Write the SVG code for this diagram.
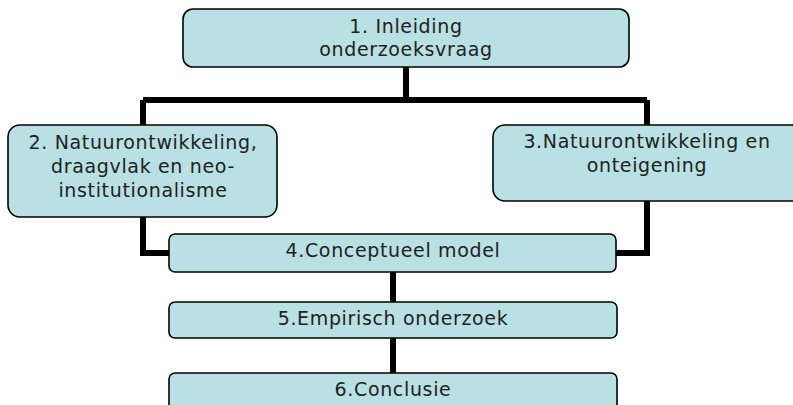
<svg xmlns="http://www.w3.org/2000/svg" width="793" height="405" viewBox="0 0 793 405">
<style>
.box{fill:#b9e0e2;stroke:#000;stroke-width:1.6}
.t{font-family:"DejaVu Sans",Verdana,sans-serif;font-size:19px;letter-spacing:0.65px;fill:#222;text-anchor:middle}
.c{fill:none;stroke:#000;stroke-width:6}
</style>
<rect width="793" height="405" fill="#fff"/>
<g id="connectors">
<path class="c" d="M406 67 V100"/>
<path class="c" d="M143 100 H647"/>
<path class="c" d="M143 100 V253 H170"/>
<path class="c" d="M647 100 V253 H616"/>
<path class="c" d="M393 272 V302"/>
<path class="c" d="M393 338 V373"/>
</g>
<g id="n1"><rect class="box" x="183" y="9" width="446" height="58" rx="10"/>
<text class="t" x="406" y="33">1. Inleiding</text><text class="t" x="406" y="56">onderzoeksvraag</text></g>
<g id="n2"><rect class="box" x="8" y="125" width="269" height="92" rx="12"/>
<text class="t" x="143" y="149">2. Natuurontwikkeling,</text><text class="t" x="143" y="173">draagvlak en neo-</text><text class="t" x="143" y="197">institutionalisme</text></g>
<g id="n3"><rect class="box" x="493" y="125" width="310" height="76" rx="12"/>
<text class="t" x="647" y="148">3.Natuurontwikkeling en</text><text class="t" x="647" y="172">onteigening</text></g>
<g id="n4"><rect class="box" x="169" y="234" width="447" height="38" rx="6"/>
<text class="t" x="393" y="257">4.Conceptueel model</text></g>
<g id="n5"><rect class="box" x="169" y="302" width="448" height="36" rx="6"/>
<text class="t" x="393" y="325">5.Empirisch onderzoek</text></g>
<g id="n6"><rect class="box" x="169" y="373" width="448" height="50" rx="6"/>
<text class="t" x="393" y="396">6.Conclusie</text></g>
</svg>
